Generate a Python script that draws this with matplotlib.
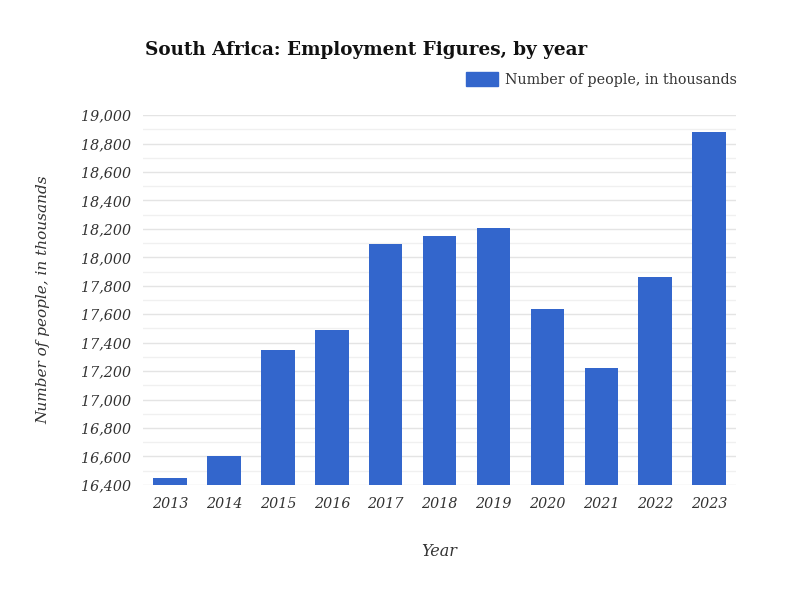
import matplotlib.pyplot as plt
from matplotlib.ticker import MultipleLocator, FuncFormatter
from matplotlib.patches import Patch

years = ["2013", "2014", "2015", "2016", "2017", "2018", "2019", "2020", "2021", "2022", "2023"]
employed = [16445, 16605, 17345, 17490, 18095, 18150, 18205, 17640, 17220, 17860, 18885]

plt.rcParams['font.family'] = ['DejaVu Serif']

fig = plt.figure(figsize=(8, 6), dpi=100)
ax = fig.add_axes([0.179, 0.192, 0.741, 0.616])

x = list(range(len(years)))
ax.bar(x, employed, width=0.62, color="#3366cc", zorder=3)

ax.set_xlim(-0.5, len(years) - 0.5)
ax.set_ylim(16400, 19000)
ax.yaxis.set_major_locator(MultipleLocator(200))
ax.yaxis.set_minor_locator(MultipleLocator(100))
ax.yaxis.set_major_formatter(FuncFormatter(lambda v, p: f"{int(v):,}"))
ax.grid(axis="y", which="major", color="#e4e4e4", lw=1, zorder=0)
ax.grid(axis="y", which="minor", color="#f0f0f0", lw=1, zorder=0)

ax.set_xticks(x)
ax.set_xticklabels(years)
for lab in ax.get_xticklabels() + ax.get_yticklabels():
    lab.set_fontstyle("italic")
    lab.set_color("#333333")
    lab.set_fontsize(10.3)
ax.tick_params(axis="both", which="both", length=0, pad=9)
for s in ax.spines.values():
    s.set_visible(False)

ax.set_xlabel("Year", fontstyle="italic", fontsize=11.5, color="#333333", labelpad=23)
ax.set_ylabel("Number of people, in thousands", fontstyle="italic", fontsize=11,
              color="#333333", labelpad=22)

fig.text(0.181, 0.917, "South Africa: Employment Figures, by year", fontsize=13.2,
         fontweight="bold", color="#111111", va="center")

handle = Patch(color="#3366cc", label="Number of people, in thousands")
fig.legend(handles=[handle], loc="center right", bbox_to_anchor=(0.928, 0.867),
           frameon=False, fontsize=10.3, handlelength=2.2, handleheight=1.1,
           handletextpad=0.5, labelcolor="#333333", borderaxespad=0)

plt.savefig("out.png", dpi=100)
